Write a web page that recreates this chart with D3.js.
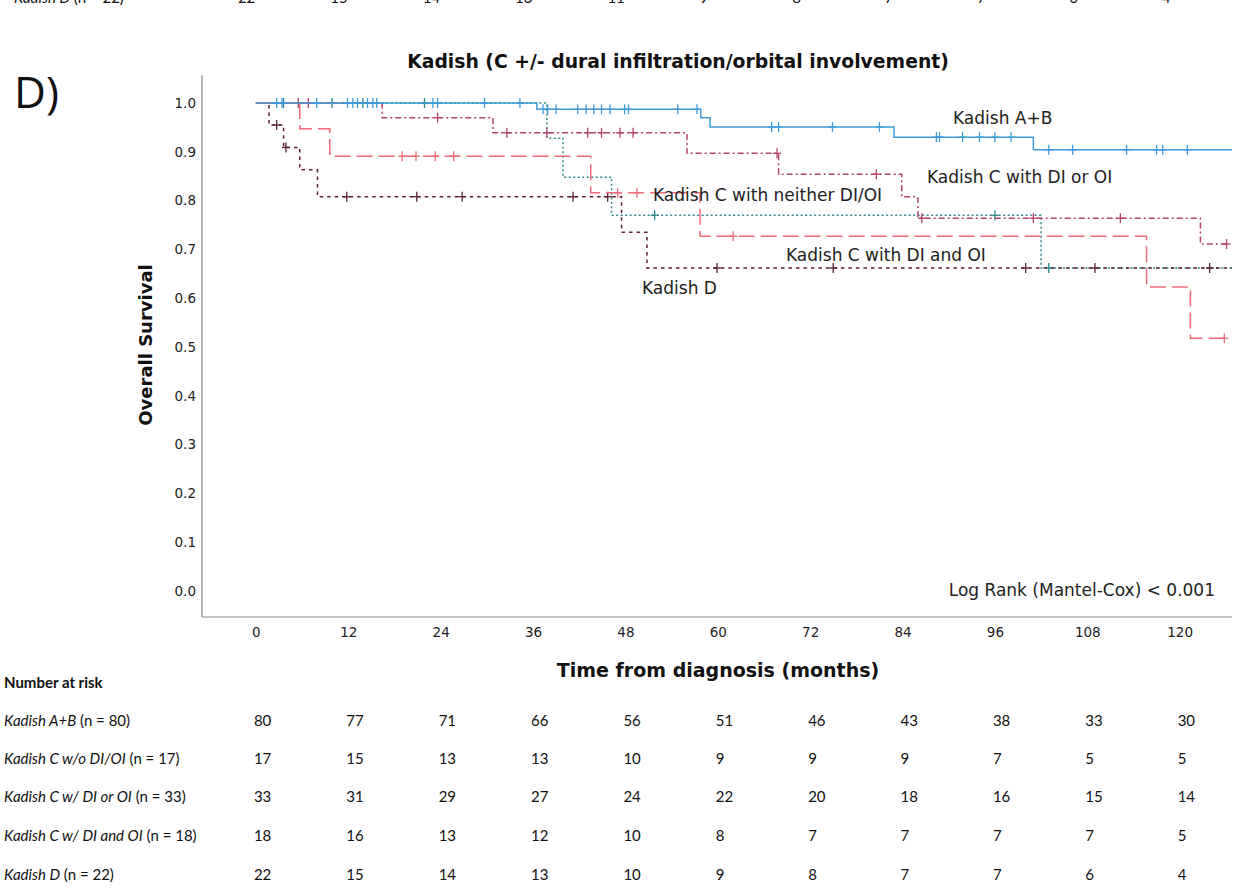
<!DOCTYPE html>
<html><head><meta charset="utf-8">
<script src="https://cdn.jsdelivr.net/npm/d3@7"></script>
<style>body{margin:0;background:#fff}svg{display:block}</style>
</head><body>
<svg id="c" width="1241" height="889"></svg>
<script>
// ---------- data ----------
const xTicks = [0,12,24,36,48,60,72,84,96,108,120];
const yTicks = [0,0.1,0.2,0.3,0.4,0.5,0.6,0.7,0.8,0.9,1.0];

const groups = ["Kadish A+B","Kadish C with neither DI/OI","Kadish C with DI or OI","Kadish C with DI and OI","Kadish D"];
const colors = ["#3f9bd8","#ef6b7a","#b2426f","#2f8a8b","#5b2038"];
const dashes = [null,"16,6","6,3,2,3","2,2.5","3.5,4"];

// [time, survival after event]
const stepsAB    = [[36.5,0.987],[57.8,0.970],[59.0,0.951],[82.9,0.930],[101.0,0.904]];
const stepsNone  = [[5.7,0.947],[9.6,0.891],[43.5,0.816],[57.7,0.727],[115.7,0.623],[121.4,0.518]];
const stepsOr    = [[16.4,0.970],[30.8,0.939],[56.0,0.897],[67.9,0.854],[83.9,0.808],[86.0,0.764],[122.7,0.711]];
const stepsAnd   = [[37.8,0.928],[39.9,0.848],[46.2,0.770],[102.0,0.662]];
const stepsD     = [[1.7,0.955],[3.6,0.909],[5.7,0.863],[8.0,0.808],[47.5,0.735],[50.8,0.662]];
const endTimes   = [126.8,125.8,126.1,126.8,126.8];

const censAB   = [2.7,3.4,7.9,11.9,12.6,13.2,14.5,15.2,15.7,23.0,23.6,29.7,34.3,37.3,37.9,39.0,41.8,42.9,43.9,44.9,46.0,47.9,48.4,54.8,57.3,67.0,67.9,74.9,81.0,88.4,88.8,91.8,94.0,96.0,98.1,103.0,106.1,113.1,117.0,117.8,121.0];
const censNone = [19.0,20.8,23.3,25.7,47.0,49.5,62.0,125.8];
const censOr   = [5.5,6.8,23.6,32.6,37.8,43.1,44.9,47.3,49.0,67.7,80.6,86.5,101.0,112.3,126.1];
const censAnd  = [3.6,9.9,13.9,21.9,51.8,96.0,103.0];
const censD    = [2.7,3.9,11.8,20.9,26.8,41.2,45.7,59.9,75.0,100.0,109.0,123.9];

const curveLabels = ["Kadish A+B","Kadish C with DI or OI","Kadish C with neither DI/OI","Kadish C with DI and OI","Kadish D"];

// number at risk table
const riskRowsItalic = ["Kadish A+B","Kadish C w/o DI/OI","Kadish C w/ DI or OI","Kadish C w/ DI and OI","Kadish D"];
const riskRowsN = [" (n = 80)"," (n = 17)"," (n = 33)"," (n = 18)"," (n = 22)"];
const riskAB   = [80,77,71,66,56,51,46,43,38,33,30];
const riskNone = [17,15,13,13,10,9,9,9,7,5,5];
const riskOr   = [33,31,29,27,24,22,20,18,16,15,14];
const riskAnd  = [18,16,13,12,10,8,7,7,7,7,5];
const riskD    = [22,15,14,13,10,9,8,7,7,6,4];
const riskTopCut = [22,15,14,13,11,9,8,7,7,6,4];

// ---------- drawing ----------
const svg = d3.select("#c");
const x = d3.scaleLinear().domain([-7, 126.8]).range([202, 1232]);
const y = d3.scaleLinear().domain([0, 1]).range([591, 103]);
const FONT = "'DejaVu Sans', sans-serif";
const TFONT = "Lato, 'Open Sans', sans-serif";

// axes lines
svg.append("line").attr("x1",202).attr("x2",202).attr("y1",y(1.057)).attr("y2",617)
  .attr("stroke","#888").attr("stroke-width",1.2);
svg.append("line").attr("x1",202).attr("x2",1232).attr("y1",617).attr("y2",617)
  .attr("stroke","#888").attr("stroke-width",1.2);

const yAxis = d3.axisLeft(y).tickValues(yTicks).tickFormat(d3.format(".1f")).tickSize(0).tickPadding(6);
const yg = svg.append("g").attr("transform","translate(202,0)").call(yAxis);
yg.select(".domain").remove();
yg.selectAll("text").attr("font-family",FONT).attr("font-size",13.5).attr("fill","#222");

const xAxis = d3.axisBottom(x).tickValues(xTicks).tickSize(0).tickPadding(10);
const xg = svg.append("g").attr("transform","translate(0,617)").call(xAxis);
xg.select(".domain").remove();
xg.selectAll("text").attr("font-family",FONT).attr("font-size",13.5).attr("fill","#222");

// titles
svg.append("text").attr("x",678).attr("y",68).attr("text-anchor","middle")
  .attr("font-family",FONT).attr("font-weight","bold").attr("font-size",18.8).attr("fill","#111")
  .text("Kadish (C +/- dural infiltration/orbital involvement)");
svg.append("text").attr("x",14).attr("y",108)
  .attr("font-family","'Open Sans', sans-serif").attr("font-size",44).attr("fill","#111").text("D)");
svg.append("text").attr("transform","translate(152,345) rotate(-90)").attr("text-anchor","middle")
  .attr("font-family",FONT).attr("font-weight","bold").attr("font-size",18).attr("fill","#111")
  .text("Overall Survival");
svg.append("text").attr("x",718).attr("y",677).attr("text-anchor","middle")
  .attr("font-family",FONT).attr("font-weight","bold").attr("font-size",19).attr("fill","#111")
  .text("Time from diagnosis (months)");
svg.append("text").attr("x",1215).attr("y",596).attr("text-anchor","end")
  .attr("font-family",FONT).attr("font-size",17).attr("fill","#222")
  .text("Log Rank (Mantel-Cox) < 0.001");

// curves
const allSteps = [stepsAB,stepsNone,stepsOr,stepsAnd,stepsD];
const allCens = [censAB,censNone,censOr,censAnd,censD];
const line = d3.line().x(d=>x(d[0])).y(d=>y(d[1])).curve(d3.curveStepAfter);
function survAt(steps,t){let s=1;for(const [tt,ss] of steps){if(tt<=t)s=ss;}return s;}
const order = [3,4,2,1,0];
order.forEach(i=>{
  const st = allSteps[i];
  const pts = [[0,1]].concat(st).concat([[endTimes[i], st[st.length-1][1]]]);
  const p = svg.append("path").attr("d",line(pts)).attr("fill","none")
    .attr("stroke",colors[i]).attr("stroke-width",1.5);
  if(dashes[i]) p.attr("stroke-dasharray",dashes[i]);
  const g = svg.append("g").attr("stroke",colors[i]).attr("stroke-width",1.3);
  allCens[i].forEach(t=>{
    const cx = x(t), cy = y(survAt(st,t));
    g.append("line").attr("x1",cx).attr("x2",cx).attr("y1",cy-5).attr("y2",cy+5);
    g.append("line").attr("x1",cx-4).attr("x2",cx+4).attr("y1",cy).attr("y2",cy);
  });
});

// curve labels
const labelPos = [[953,124],[927,183],[653,201],[786,261],[642,294]];
curveLabels.forEach((t,i)=>{
  svg.append("text").attr("x",labelPos[i][0]).attr("y",labelPos[i][1])
    .attr("font-family",FONT).attr("font-size",17).attr("fill","#222").text(t);
});

// number at risk
svg.append("text").attr("x",4).attr("y",688).attr("font-family",TFONT).attr("font-weight","bold")
  .attr("font-size",15).attr("fill","#111").text("Number at risk");
const riskData = [riskAB,riskNone,riskOr,riskAnd,riskD];
const rowY = [726,764,802,841,880];
riskRowsItalic.forEach((lab,i)=>{
  const t = svg.append("text").attr("x",4).attr("y",rowY[i]).attr("font-family",TFONT)
    .attr("font-size",15).attr("fill","#111");
  t.append("tspan").attr("font-style","italic").text(lab);
  t.append("tspan").text(riskRowsN[i]);
  riskData[i].forEach((v,j)=>{
    svg.append("text").attr("x",x(xTicks[j])-2).attr("y",rowY[i]).attr("font-family",TFONT)
      .attr("font-size",15).attr("fill","#111").text(v);
  });
});
// cut-off row at very top
{
  const t = svg.append("text").attr("x",14).attr("y",3).attr("font-family",TFONT)
    .attr("font-size",15).attr("fill","#111");
  t.append("tspan").attr("font-style","italic").text("Kadish D");
  t.append("tspan").text(" (n = 22)");
  riskTopCut.forEach((v,j)=>{
    svg.append("text").attr("x",x(xTicks[j])-18).attr("y",3).attr("font-family",TFONT)
      .attr("font-size",15).attr("fill","#111").text(v);
  });
}
</script>
</body></html>
